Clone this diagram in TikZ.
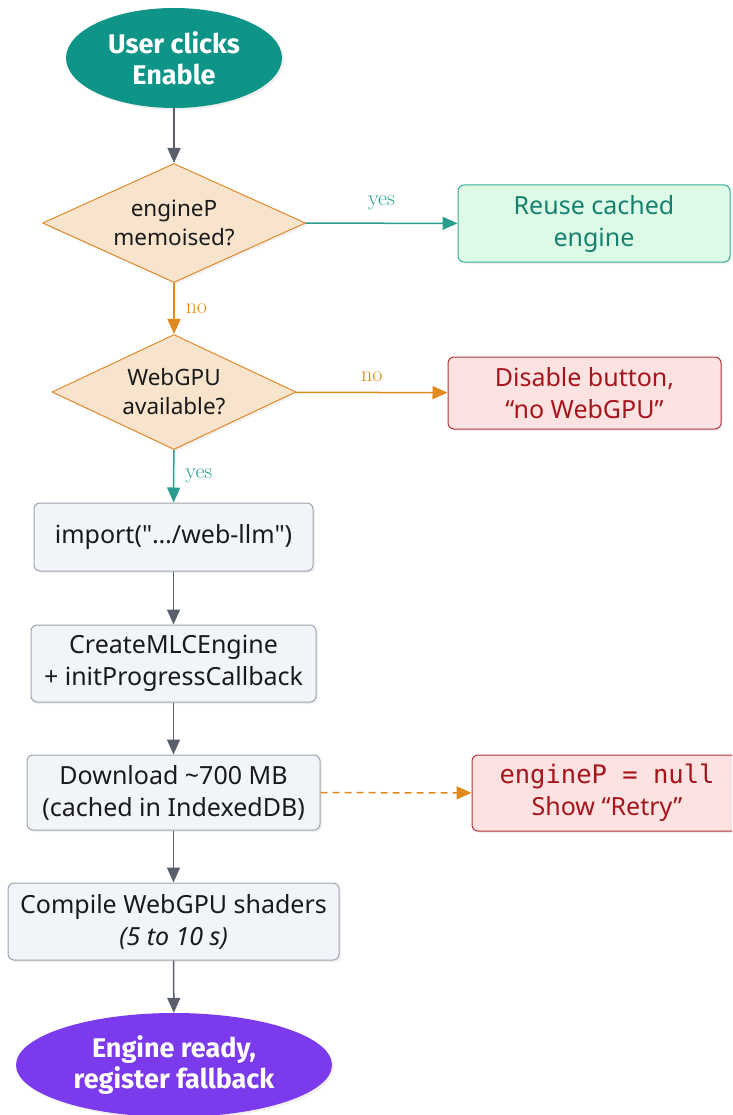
\documentclass[tikz,border=0pt]{standalone}
\usepackage{fontspec}
\newfontfamily\plex{Noto Sans}
\newfontfamily\plexbold{Fira Sans}
\newfontfamily\plexmono{DejaVu Sans Mono}
\usetikzlibrary{arrows.meta,shapes.geometric,shadows}
\definecolor{startteal}{HTML}{0F9488}
\definecolor{endviolet}{HTML}{7C3AED}
\definecolor{decfill}{HTML}{F8E4CC}
\definecolor{decline}{HTML}{E08A2A}
\definecolor{orangearr}{HTML}{E08A1E}
\definecolor{tealarr}{HTML}{2A9D8F}
\definecolor{okfill}{HTML}{DCFAE6}
\definecolor{okline}{HTML}{3BAE96}
\definecolor{oktext}{HTML}{17806F}
\definecolor{errfill}{HTML}{FDE2E2}
\definecolor{errline}{HTML}{B0353A}
\definecolor{errtext}{HTML}{A5151B}
\definecolor{procfill}{HTML}{F1F4F9}
\definecolor{procline}{HTML}{A0A4AD}
\definecolor{grayarr}{HTML}{5A5F6E}
\definecolor{bodytext}{HTML}{1A1A1A}
\tikzset{
  shad/.style={drop shadow={opacity=0.12,shadow xshift=2pt,shadow yshift=-2pt}},
  terminal/.style={ellipse,shad,inner sep=0pt,text=white,align=center,
    font=\plexbold\bfseries\fontsize{27}{31}\selectfont},
  decision/.style={diamond,shad,draw=decline,fill=decfill,line width=1pt,inner sep=0pt,
    align=center,text=bodytext,font=\plex\fontsize{22.5}{29}\selectfont},
  procbox/.style={rectangle,rounded corners=6pt,shad,draw=procline,fill=procfill,line width=1pt,
    align=center,text=bodytext,font=\plex\fontsize{25}{32}\selectfont},
  okbox/.style={procbox,draw=okline,fill=okfill,text=oktext},
  errbox/.style={procbox,draw=errline,fill=errfill,text=errtext},
  arr/.style={-{Triangle[length=15pt,width=13pt]},line width=1.5pt},
  grayflow/.style={arr,draw=grayarr},
  tealflow/.style={arr,draw=tealarr},
  orangeflow/.style={arr,draw=orangearr},
  lbl/.style={font=\rmfamily\fontsize{22}{24}\selectfont,inner sep=0pt},
}
\begin{document}
\begin{tikzpicture}[x=1pt,y=-1pt]
\useasboundingbox (0,0) rectangle (732,1115);
\clip (0,0) rectangle (732,1115);
\node[terminal,fill=startteal,minimum width=216pt,minimum height=100pt] (start) at (174,58) {User clicks\\Enable};
\node[decision,minimum width=263pt,minimum height=119pt,aspect=2.2] (memo) at (174,223) {engineP\\memoised?};
\node[okbox,minimum width=272pt,minimum height=77pt] (reuse) at (594,223.5) {Reuse cached\\engine};
\node[decision,minimum width=244pt,minimum height=115pt,aspect=2.1] (gpu) at (174,392) {WebGPU\\available?};
\node[errbox,minimum width=273pt,minimum height=72pt] (disable) at (584.5,393) {Disable button,\\\textquotedblleft no WebGPU\textquotedblright};
\node[procbox,minimum width=279pt,minimum height=68pt] (import) at (173.5,537) {import("\ldots/web-llm")};
\node[procbox,minimum width=285pt,minimum height=77pt] (create) at (173.5,663.5) {CreateMLCEngine\\+ initProgressCallback};
\node[procbox,minimum width=293pt,minimum height=75pt] (download) at (173.5,792.5) {Download \char"7E 700 MB\\(cached in IndexedDB)};
\node[errbox,minimum width=270pt,minimum height=76pt] (retry) at (607,793) {{\plexmono\fontsize{25.5}{32}\selectfont engineP = null}\\Show \textquotedblleft Retry\textquotedblright};
\node[procbox,minimum width=331pt,minimum height=77pt] (compile) at (173.5,921.5) {Compile WebGPU shaders\\\textit{(5 to 10 s)}};
\node[terminal,fill=endviolet,minimum width=316pt,minimum height=104pt] (ready) at (174,1065) {Engine ready,\\register fallback};
\draw[grayflow] (start) -- (memo);
\draw[tealflow] (memo) -- node[lbl,text=tealarr,above=13pt] {yes} (reuse);
\draw[orangeflow] (memo) -- node[lbl,text=orangearr,right=11pt] {no} (gpu);
\draw[orangeflow] (gpu) -- node[lbl,text=orangearr,above=10pt] {no} (disable);
\draw[tealflow] (gpu) -- node[lbl,text=tealarr,right=11pt] {yes} (import);
\draw[grayflow] (import) -- (create);
\draw[grayflow] (create) -- (download);
\draw[orangeflow,dashed,dash pattern=on 7pt off 5pt] (download) -- (retry);
\draw[grayflow] (download) -- (compile);
\draw[grayflow] (compile) -- (ready);
\end{tikzpicture}
\end{document}
